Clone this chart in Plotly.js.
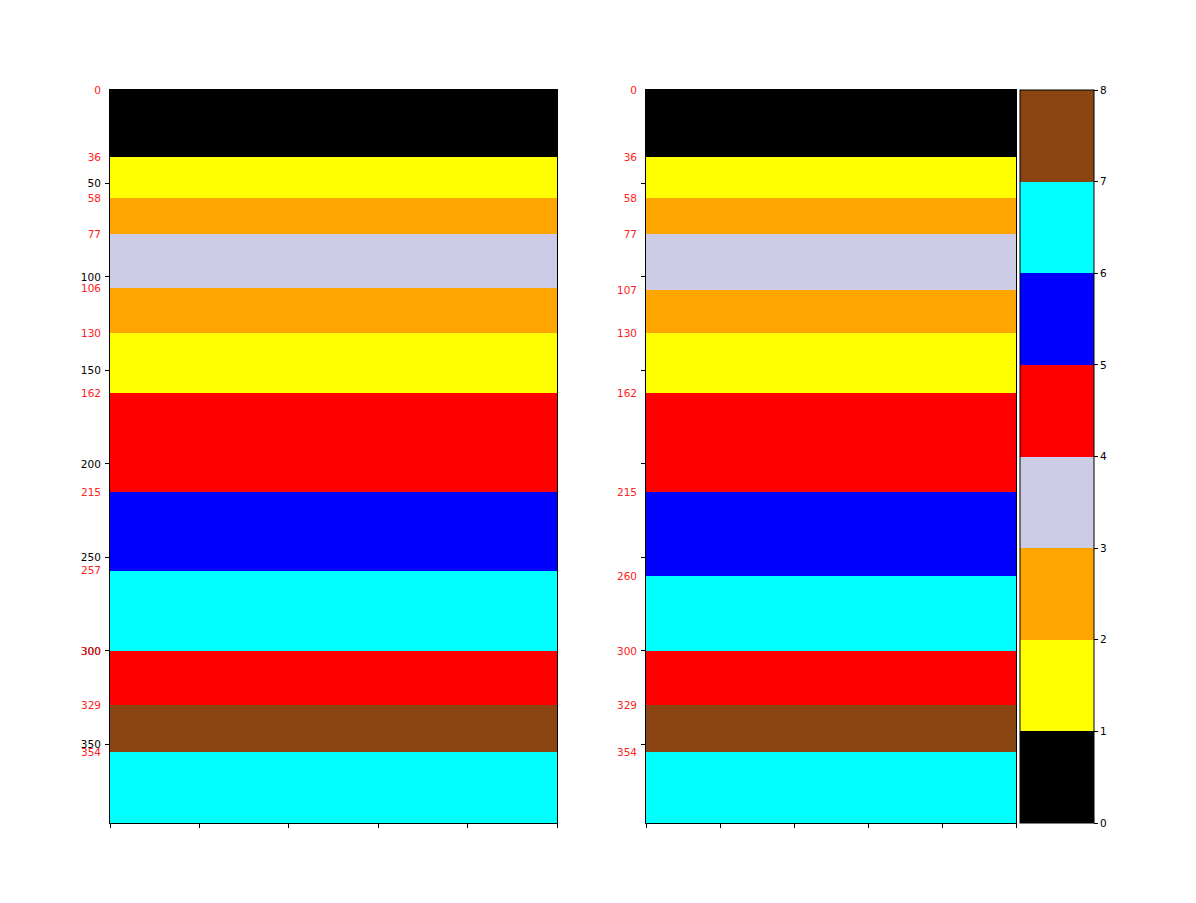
<!DOCTYPE html>
<html>
<head>
<meta charset="utf-8">
<script src="https://cdn.plot.ly/plotly-3.0.1.min.js"></script>
<style>html,body{margin:0;padding:0;background:#fff;}</style>
</head>
<body>
<div id="chart" style="width:1196px;height:903px;"></div>
<script>
// Layer boundaries (depth) for each log
const leftDepths  = [0, 36, 58, 77, 106, 130, 162, 215, 257, 300, 329, 354, 392];
const rightDepths = [0, 36, 58, 77, 107, 130, 162, 215, 260, 300, 329, 354, 392];
// Facies code of each layer (top to bottom)
const leftCodes  = [0, 1, 2, 3, 2, 1, 4, 5, 6, 4, 7, 6];
const rightCodes = [0, 1, 2, 3, 2, 1, 4, 5, 6, 4, 7, 6];
// Colour of each facies code 0..7
const faciesColors = ['#000000', '#ffff00', '#ffa500', '#cccce6', '#ff0000', '#0000ff', '#00ffff', '#8b4513'];
const colorbarTicks = [0, 1, 2, 3, 4, 5, 6, 7, 8];
const depthTicks = [50, 100, 150, 200, 250, 300, 350];
const xTicks = [0, 0.2, 0.4, 0.6, 0.8, 1];

(function () {
const nC = faciesColors.length;
const colorscale = [];
faciesColors.forEach((c, k) => { colorscale.push([k / nC, c]); colorscale.push([(k + 1) / nC, c]); });

function zOf(codes) { return codes.map(c => [c + 0.5]); }

const W = 1196, H = 903;
const topPx = 90, bottomPx = 823;
const yDom = [1 - bottomPx / H, 1 - topPx / H];
const yMax = leftDepths[leftDepths.length - 1];
const font = {family: 'DejaVu Sans, sans-serif', size: 10.5, color: '#000'};
const red = '#ff2020';

const traces = [
  {type: 'heatmap', x: [0, 1], y: leftDepths, z: zOf(leftCodes), coloraxis: 'coloraxis',
   xaxis: 'x', yaxis: 'y', hoverinfo: 'skip', zsmooth: false},
  {type: 'heatmap', x: [0, 1], y: rightDepths, z: zOf(rightCodes), coloraxis: 'coloraxis',
   xaxis: 'x2', yaxis: 'y2', hoverinfo: 'skip', zsmooth: false},
  // invisible carriers so the red boundary-label axes are drawn
  {type: 'scatter', mode: 'markers', x: leftDepths.map(() => 0.5), y: leftDepths,
   marker: {opacity: 0}, xaxis: 'x', yaxis: 'y3', hoverinfo: 'skip', showlegend: false},
  {type: 'scatter', mode: 'markers', x: rightDepths.map(() => 0.5), y: rightDepths,
   marker: {opacity: 0}, xaxis: 'x2', yaxis: 'y4', hoverinfo: 'skip', showlegend: false}
];

const baseX = {range: [0, 1], tickvals: xTicks, showticklabels: false, ticks: 'outside', ticklen: 4,
  tickcolor: '#000', tickwidth: 1, showline: true, linecolor: '#000', linewidth: 1, mirror: true,
  showgrid: false, zeroline: false};
const baseY = {range: [yMax, 0], autorange: false, showgrid: false, zeroline: false, tickfont: font};

const layout = {
  width: W, height: H,
  margin: {l: 0, r: 0, t: 0, b: 0},
  paper_bgcolor: '#fff', plot_bgcolor: '#fff',
  font: font,
  showlegend: false,
  xaxis: Object.assign({}, baseX, {domain: [110 / W, 557 / W], anchor: 'y'}),
  xaxis2: Object.assign({}, baseX, {domain: [646 / W, 1016 / W], anchor: 'y2'}),
  yaxis: Object.assign({}, baseY, {domain: yDom, anchor: 'x', tickvals: depthTicks,
    ticks: 'outside', ticklen: 4, tickcolor: '#000', tickwidth: 1,
    showline: true, linecolor: '#000', linewidth: 1, mirror: true, ticklabelstandoff: 2}),
  yaxis3: Object.assign({}, baseY, {overlaying: 'y', anchor: 'x', side: 'left',
    tickvals: leftDepths.slice(0, -1), ticktext: leftDepths.slice(0, -1).map(String),
    ticks: '', ticklen: 0, tickfont: Object.assign({}, font, {color: red}), showline: false,
    ticklabelstandoff: 8}),
  yaxis2: Object.assign({}, baseY, {domain: yDom, anchor: 'x2', tickvals: depthTicks,
    showticklabels: false, ticks: 'outside', ticklen: 4, tickcolor: '#000', tickwidth: 1,
    showline: true, linecolor: '#000', linewidth: 1, mirror: true}),
  yaxis4: Object.assign({}, baseY, {overlaying: 'y2', anchor: 'x2', side: 'left',
    tickvals: rightDepths.slice(0, -1), ticktext: rightDepths.slice(0, -1).map(String),
    ticks: '', ticklen: 0, tickfont: Object.assign({}, font, {color: red}), showline: false,
    ticklabelstandoff: 8}),
  coloraxis: {
    cmin: 0, cmax: nC, colorscale: colorscale,
    colorbar: {
      x: 1020 / W, xanchor: 'left', xpad: 0, ypad: 0,
      y: yDom[1], yanchor: 'top', len: yDom[1] - yDom[0], lenmode: 'fraction',
      thickness: 74, thicknessmode: 'pixels',
      tickvals: colorbarTicks, ticktext: colorbarTicks.map(String),
      ticks: 'outside', ticklen: 4, tickcolor: '#000', tickwidth: 1,
      outlinewidth: 1, outlinecolor: '#000', tickfont: font
    }
  }
};

Plotly.newPlot('chart', traces, layout, {displayModeBar: false, staticPlot: true});
})();
</script>
</body>
</html>
